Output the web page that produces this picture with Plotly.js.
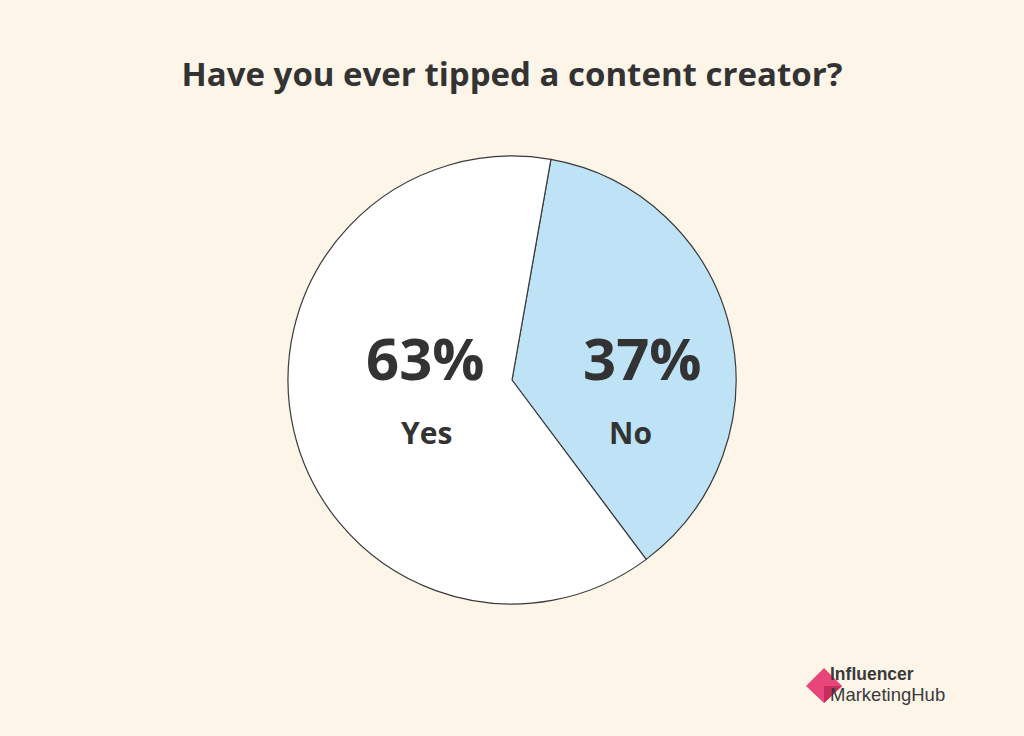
<!DOCTYPE html>
<html>
<head>
<meta charset="utf-8">
<script src="https://cdn.plot.ly/plotly-3.0.1.min.js"></script>
<style>
html,body{margin:0;padding:0;background:#fef5e9;}
#chart{width:1024px;height:736px;}
</style>
</head>
<body>
<div id="chart"></div>
<script>
// Data
const categories = ["No", "Yes"];
const values = [37, 63];
const sliceColors = ["#bee3f6", "#ffffff"];
const chartTitle = "Have you ever tipped a content creator?";

const W = 1024, H = 736;
const px = x => x / W;
const py = y => 1 - y / H;

// label anchor positions (pixels) for each category
const labelPos = { "No": { pct: [642, 357], lab: [630, 432] }, "Yes": { pct: [425, 357], lab: [426, 432] } };

const annotations = [];
categories.forEach((c, i) => {
  const p = labelPos[c];
  annotations.push({
    text: "<b>" + values[i] + "%</b>", x: px(p.pct[0]), y: py(p.pct[1]), xref: "paper", yref: "paper",
    showarrow: false, xanchor: "center", yanchor: "middle",
    font: { family: "Open Sans", size: 58, color: "#333333" }
  });
  annotations.push({
    text: "<b>" + c + "</b>", x: px(p.lab[0]), y: py(p.lab[1]), xref: "paper", yref: "paper",
    showarrow: false, xanchor: "center", yanchor: "middle",
    font: { family: "Open Sans", size: 30, color: "#333333" }
  });
});

// Logo text (one block, two lines)
annotations.push({
  text: "<span style='font-size:17.5px'><b>Influencer</b></span><br><span style='font-size:18.5px'>MarketingHub</span>",
  x: px(829), y: py(684), xref: "paper", yref: "paper",
  showarrow: false, xanchor: "left", yanchor: "middle", align: "left", borderpad: 0,
  font: { family: "Liberation Sans", size: 16, color: "#3a3a3a" }
});

function pathPx(points) {
  return "M " + points.map(p => px(p[0]) + "," + py(p[1])).join(" L ") + " Z";
}

const shapes = [
  { type: "path", xref: "paper", yref: "paper", path: pathPx([[824, 668], [806, 686], [824, 703], [842, 686]]),
    fillcolor: "#e8457a", line: { width: 0 }, layer: "below" },
  { type: "path", xref: "paper", yref: "paper", path: pathPx([[824, 686], [842, 686], [824, 703]]),
    fillcolor: "#c62d5f", line: { width: 0 }, layer: "below" }
];

const trace = {
  type: "pie",
  labels: categories,
  values: values,
  sort: false,
  direction: "clockwise",
  rotation: 10,
  marker: { colors: sliceColors, line: { color: "#3a3a3a", width: 1.2 } },
  textinfo: "none",
  hoverinfo: "label+percent",
  showlegend: false,
  domain: { x: [288 / W, 736 / W], y: [1 - 604 / H, 1 - 156 / H] }
};

const layout = {
  width: W, height: H,
  margin: { l: 0, r: 0, t: 0, b: 0 },
  paper_bgcolor: "#fef5e9",
  plot_bgcolor: "#fef5e9",
  title: { text: "<b>" + chartTitle + "</b>", x: 0.5, xanchor: "center", y: py(74), yanchor: "middle",
    font: { family: "Open Sans", size: 33, color: "#333333" } },
  annotations: annotations,
  shapes: shapes,
  showlegend: false
};

Plotly.newPlot("chart", [trace], layout, { displayModeBar: false, staticPlot: true });
</script>
</body>
</html>
